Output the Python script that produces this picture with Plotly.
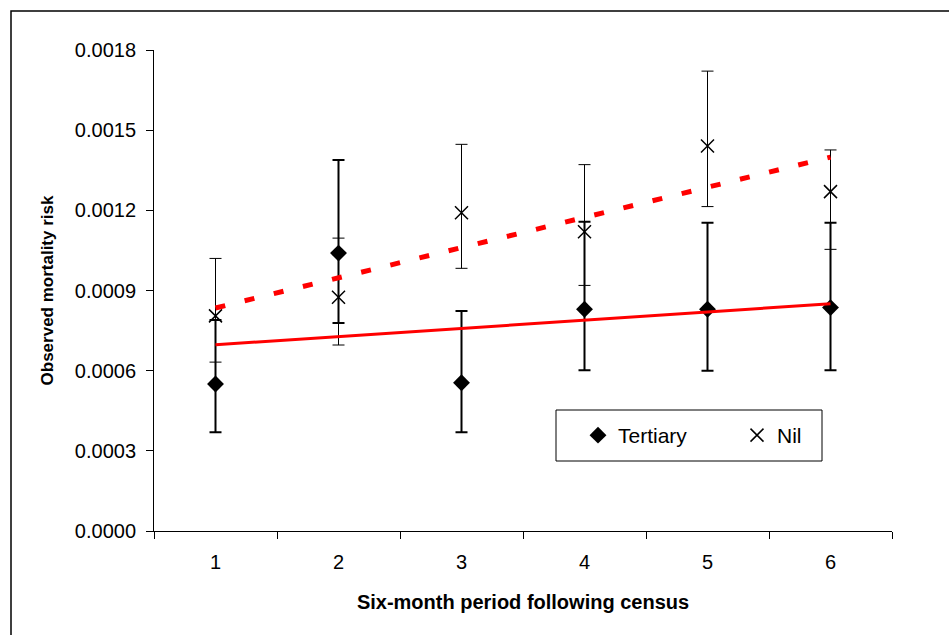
import numpy as np
import plotly.graph_objects as go

# Six-month periods following the census
periods = ["1", "2", "3", "4", "5", "6"]
period_num = [1, 2, 3, 4, 5, 6]

# Observed mortality risk with confidence limits, tertiary education
tertiary = [0.00055, 0.00104, 0.000555, 0.00083, 0.00083, 0.000836]
tertiary_lo = [0.00037, 0.000778, 0.00037, 0.000602, 0.0006, 0.000602]
tertiary_hi = [0.00079, 0.001388, 0.000823, 0.001157, 0.001154, 0.001154]

# Observed mortality risk with confidence limits, no qualification
nil = [0.000805, 0.000875, 0.001191, 0.00112, 0.001441, 0.00127]
nil_lo = [0.000632, 0.000696, 0.000983, 0.000919, 0.001214, 0.001054]
nil_hi = [0.00102, 0.001096, 0.001447, 0.001371, 0.001721, 0.001426]

y_ticks = [0.0, 0.0003, 0.0006, 0.0009, 0.0012, 0.0015, 0.0018]

FONT = "Arial, Liberation Sans, sans-serif"

# Plot-area geometry (pixels) used for layout placement
W, H = 949, 635
L, R, T, B = 154, 57, 50, 104
pw, ph = W - L - R, H - T - B


def px_x(px):
    return (px - L) / pw


def px_y(py):
    return (H - B - py) / ph


def err(vals, lo, hi):
    up = [h - v for v, h in zip(vals, hi)]
    down = [v - l for v, l in zip(vals, lo)]
    return up, down


t_up, t_down = err(tertiary, tertiary_lo, tertiary_hi)
n_up, n_down = err(nil, nil_lo, nil_hi)

# Linear trend lines fitted to each series
t_fit = np.polyfit(period_num, tertiary, 1)
n_fit = np.polyfit(period_num, nil, 1)
ends = [period_num[0], period_num[-1]]
t_trend = list(np.polyval(t_fit, ends))
n_trend = list(np.polyval(n_fit, ends))
end_labels = [periods[0], periods[-1]]

fig = go.Figure()

fig.add_trace(go.Scatter(
    x=periods, y=tertiary, mode="markers", name="Tertiary",
    marker=dict(symbol="diamond", size=13, color="black", line=dict(width=0)),
    error_y=dict(type="data", symmetric=False, array=t_up, arrayminus=t_down,
                 color="black", thickness=2, width=6),
))

fig.add_trace(go.Scatter(
    x=periods, y=nil, mode="markers", name="Nil",
    marker=dict(symbol="x-thin", size=13, color="black",
                line=dict(width=1.5, color="black")),
    error_y=dict(type="data", symmetric=False, array=n_up, arrayminus=n_down,
                 color="black", thickness=1, width=6),
))

fig.add_trace(go.Scatter(
    x=end_labels, y=t_trend, mode="lines", showlegend=False, hoverinfo="skip",
    line=dict(color="#FF0000", width=3),
))

fig.add_trace(go.Scatter(
    x=end_labels, y=n_trend, mode="lines", showlegend=False, hoverinfo="skip",
    line=dict(color="#FF0000", width=5, dash="10px,20px"),
))

# Legend frame
fig.add_shape(
    type="rect", xref="paper", yref="paper",
    x0=px_x(556), x1=px_x(822), y0=px_y(461), y1=px_y(410),
    line=dict(color="black", width=1), fillcolor="white", layer="below",
)

# Outer chart border
fig.add_shape(
    type="rect", xref="paper", yref="paper",
    x0=px_x(11), x1=px_x(960), y0=px_y(645), y1=px_y(11),
    line=dict(color="black", width=1.5), fillcolor="rgba(0,0,0,0)", layer="above",
)

fig.update_layout(
    width=W, height=H,
    margin=dict(l=L, r=R, t=T, b=B, pad=0),
    paper_bgcolor="white", plot_bgcolor="white",
    font=dict(family=FONT, color="black", size=20),
    showlegend=True,
    legend=dict(
        orientation="h", x=px_x(578), xanchor="left",
        y=px_y(435.5), yanchor="middle",
        bgcolor="rgba(0,0,0,0)", borderwidth=0,
        font=dict(family=FONT, size=21, color="black"),
        entrywidthmode="pixels", entrywidth=114,
    ),
    xaxis=dict(
        type="category", categoryorder="array", categoryarray=periods,
        range=[-0.5, 5.5],
        showline=True, linecolor="black", linewidth=1,
        ticks="outside", tickson="boundaries", ticklen=7, tickcolor="black",
        showgrid=False, zeroline=False,
        tickfont=dict(family=FONT, size=20),
        ticklabelstandoff=13,
        title=dict(text="<b>Six-month period following census</b>",
                   font=dict(family=FONT, size=20), standoff=22),
    ),
    yaxis=dict(
        range=[0, 0.0018], tickvals=y_ticks, tickformat=".4f",
        showline=True, linecolor="black", linewidth=1,
        ticks="outside", ticklen=7, tickcolor="black",
        showgrid=False, zeroline=False,
        tickfont=dict(family=FONT, size=20),
        ticklabelstandoff=6,
        title=dict(text="<b>Observed mortality risk</b>",
                   font=dict(family=FONT, size=17), standoff=16),
    ),
)

fig.write_html("out.html")
